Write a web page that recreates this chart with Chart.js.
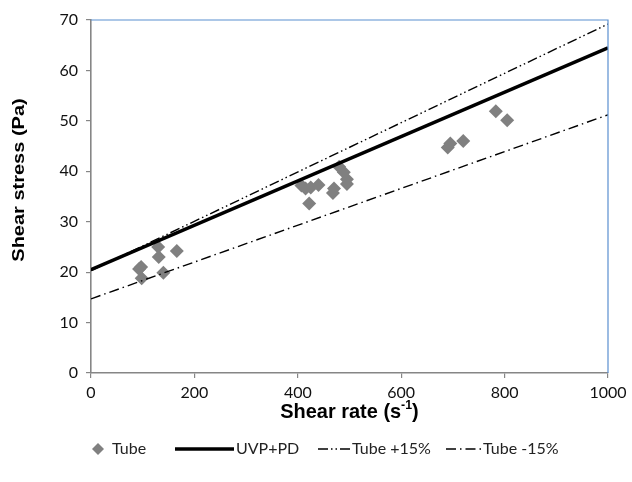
<!DOCTYPE html>
<html><head><meta charset="utf-8">
<script src="https://cdn.jsdelivr.net/npm/chart.js@4/dist/chart.umd.min.js"></script>
<style>html,body{margin:0;padding:0;background:#fff}#wrap{width:632px;height:482px;position:relative}</style>
</head><body><div id="wrap"><canvas id="c"></canvas></div>
<script>
// ---- data ----
const tubeShearRate = [93, 97, 98, 130, 131, 140, 166, 407, 415, 425, 440, 422, 470, 468, 480, 489, 495, 495, 690, 695, 720, 783, 805];
const tubeShearStress = [20.6, 21.0, 18.8, 25.0, 23.0, 19.9, 24.2, 37.2, 36.6, 36.8, 37.3, 33.6, 36.6, 35.7, 40.9, 39.8, 38.4, 37.5, 44.7, 45.5, 46.0, 51.9, 50.1];
const lineShearRate = [0, 1000];
const uvpStress = [20.5, 64.5];
const tubePlus15Stress = [20.3, 69.2];
const tubeMinus15Stress = [14.7, 51.2];
const xTicks = [0, 200, 400, 600, 800, 1000];
const yTicks = [0, 10, 20, 30, 40, 50, 60, 70];
const legendLabels = ['Tube', 'UVP+PD', 'Tube +15%', 'Tube -15%'];

const pts = (xs, ys) => xs.map((x, i) => ({x, y: ys[i]}));
const AX = '#868686';
const TICKFONT = {family: 'Lato', size: 16};

const decor = {
  id: 'decor',
  afterDraw(chart) {
    const ctx = chart.ctx, a = chart.chartArea;
    ctx.save();
    // top/right border
    ctx.strokeStyle = '#5b8fd0'; ctx.lineWidth = 1.2;
    ctx.beginPath(); ctx.moveTo(a.left, a.top); ctx.lineTo(a.right, a.top); ctx.lineTo(a.right, a.bottom); ctx.stroke();
    ctx.fillStyle = '#000';
    // y title
    ctx.save();
    ctx.translate(19, 180); ctx.scale(0.83, 1); ctx.rotate(-Math.PI / 2);
    ctx.font = 'bold 20px "Liberation Sans"'; ctx.textAlign = 'center'; ctx.textBaseline = 'middle';
    ctx.fillText('Shear stress (Pa)', 0, 0);
    ctx.restore();
    // x title with superscript
    ctx.save();
    const cx = (a.left + a.right) / 2, cy = 411;
    ctx.translate(cx, cy); ctx.scale(0.95, 1);
    const f1 = 'bold 21px "Liberation Sans"', f2 = 'bold 13px "Liberation Sans"';
    const t1 = 'Shear rate (s', t2 = '-1', t3 = ')';
    ctx.font = f1; const w1 = ctx.measureText(t1).width, w3 = ctx.measureText(t3).width;
    ctx.font = f2; const w2 = ctx.measureText(t2).width;
    let x = -(w1 + w2 + w3) / 2;
    ctx.textBaseline = 'alphabetic'; ctx.textAlign = 'left';
    ctx.font = f1; ctx.fillText(t1, x, 7); x += w1;
    ctx.font = f2; ctx.fillText(t2, x, -2); x += w2;
    ctx.font = f1; ctx.fillText(t3, x, 7);
    ctx.restore();
    // legend
    const ly = 449;
    ctx.font = '16px Lato'; ctx.textBaseline = 'middle'; ctx.textAlign = 'left';
    ctx.fillStyle = '#808080';
    ctx.beginPath(); ctx.moveTo(98, ly - 6); ctx.lineTo(104, ly); ctx.lineTo(98, ly + 6); ctx.lineTo(92, ly); ctx.closePath(); ctx.fill();
    ctx.fillStyle = '#222';
    ctx.fillText(legendLabels[0], 112, ly);
    ctx.strokeStyle = '#000';
    ctx.lineWidth = 3.5; ctx.setLineDash([]);
    ctx.beginPath(); ctx.moveTo(175, ly); ctx.lineTo(234, ly); ctx.stroke();
    ctx.fillText(legendLabels[1], 236, ly);
    ctx.lineWidth = 1.4; ctx.setLineDash([10, 3, 1.5, 3, 1.5, 3]);
    ctx.beginPath(); ctx.moveTo(318, ly); ctx.lineTo(351, ly); ctx.stroke();
    ctx.fillText(legendLabels[2], 352, ly);
    ctx.setLineDash([10, 4, 1.5, 4]);
    ctx.beginPath(); ctx.moveTo(446, ly); ctx.lineTo(482, ly); ctx.stroke();
    ctx.fillText(legendLabels[3], 483, ly);
    ctx.restore();
  }
};

new Chart(document.getElementById('c'), {
  type: 'scatter',
  data: {
    datasets: [
      {label: legendLabels[0], data: pts(tubeShearRate, tubeShearStress), pointStyle: 'rectRot', pointRadius: 7,
       backgroundColor: '#808080', borderColor: '#808080', borderWidth: 0, showLine: false, order: 5},
      {label: legendLabels[1], data: pts(lineShearRate, uvpStress), showLine: true, pointRadius: 0,
       borderColor: '#000', borderWidth: 3.5, order: 1},
      {label: legendLabels[2], data: pts(lineShearRate, tubePlus15Stress), showLine: true, pointRadius: 0,
       borderColor: '#000', borderWidth: 1.4, borderDash: [10, 3, 1.5, 3, 1.5, 3], order: 2},
      {label: legendLabels[3], data: pts(lineShearRate, tubeMinus15Stress), showLine: true, pointRadius: 0,
       borderColor: '#000', borderWidth: 1.4, borderDash: [10, 4, 1.5, 4], order: 3}
    ]
  },
  options: {
    responsive: true, maintainAspectRatio: false, animation: false,
    layout: {padding: {top: 20, right: 24, left: 0, bottom: 0}},
    plugins: {legend: {display: false}, tooltip: {enabled: false}},
    scales: {
      x: {type: 'linear', min: xTicks[0], max: xTicks[xTicks.length - 1],
          afterBuildTicks: s => { s.ticks = xTicks.map(v => ({value: v})); },
          afterFit: s => { s.height = 109; },
          ticks: {font: TICKFONT, color: '#111', padding: 5, maxRotation: 0, callback: v => String(v)},
          grid: {drawOnChartArea: false, drawTicks: true, tickLength: 5, color: AX, lineWidth: 1.2},
          border: {color: AX, width: 1.6}},
      y: {type: 'linear', min: yTicks[0], max: yTicks[yTicks.length - 1],
          afterBuildTicks: s => { s.ticks = yTicks.map(v => ({value: v})); },
          afterFit: s => { s.width = 91; },
          ticks: {font: TICKFONT, color: '#111', padding: 8, callback: v => String(v)},
          grid: {drawOnChartArea: false, drawTicks: true, tickLength: 5, color: AX, lineWidth: 1.2},
          border: {color: AX, width: 1.6}}
    }
  },
  plugins: [decor]
});
</script>
</body></html>
